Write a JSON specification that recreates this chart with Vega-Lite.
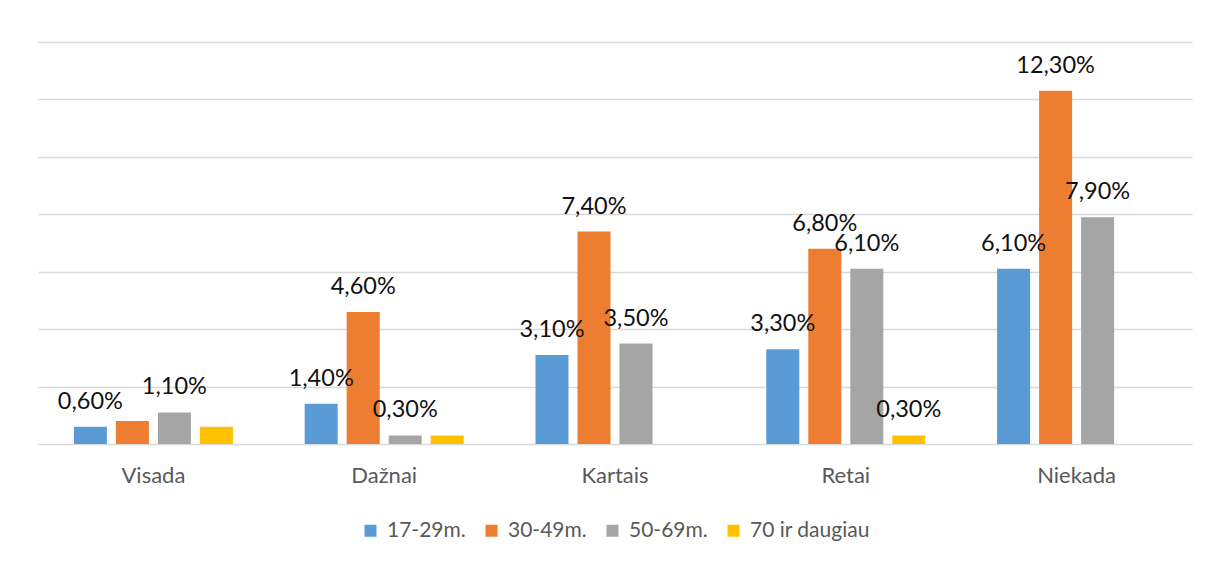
{
  "$schema": "https://vega.github.io/schema/vega-lite/v6.json",
  "width": 1154,
  "height": 402,
  "padding": {"left": 38, "top": 42, "right": 21, "bottom": 0},
  "background": "white",
  "data": {
    "values": [
      {"atsakymas": "Visada", "amzius": "17-29m.", "procentai": 0.6, "zyma": "0,60%"},
      {"atsakymas": "Visada", "amzius": "30-49m.", "procentai": 0.8, "zyma": ""},
      {"atsakymas": "Visada", "amzius": "50-69m.", "procentai": 1.1, "zyma": "1,10%"},
      {"atsakymas": "Visada", "amzius": "70 ir daugiau", "procentai": 0.6, "zyma": ""},
      {"atsakymas": "Dažnai", "amzius": "17-29m.", "procentai": 1.4, "zyma": "1,40%"},
      {"atsakymas": "Dažnai", "amzius": "30-49m.", "procentai": 4.6, "zyma": "4,60%"},
      {"atsakymas": "Dažnai", "amzius": "50-69m.", "procentai": 0.3, "zyma": "0,30%"},
      {"atsakymas": "Dažnai", "amzius": "70 ir daugiau", "procentai": 0.3, "zyma": ""},
      {"atsakymas": "Kartais", "amzius": "17-29m.", "procentai": 3.1, "zyma": "3,10%"},
      {"atsakymas": "Kartais", "amzius": "30-49m.", "procentai": 7.4, "zyma": "7,40%"},
      {"atsakymas": "Kartais", "amzius": "50-69m.", "procentai": 3.5, "zyma": "3,50%"},
      {"atsakymas": "Retai", "amzius": "17-29m.", "procentai": 3.3, "zyma": "3,30%"},
      {"atsakymas": "Retai", "amzius": "30-49m.", "procentai": 6.8, "zyma": "6,80%"},
      {"atsakymas": "Retai", "amzius": "50-69m.", "procentai": 6.1, "zyma": "6,10%"},
      {"atsakymas": "Retai", "amzius": "70 ir daugiau", "procentai": 0.3, "zyma": "0,30%"},
      {"atsakymas": "Niekada", "amzius": "17-29m.", "procentai": 6.1, "zyma": "6,10%"},
      {"atsakymas": "Niekada", "amzius": "30-49m.", "procentai": 12.3, "zyma": "12,30%"},
      {"atsakymas": "Niekada", "amzius": "50-69m.", "procentai": 7.9, "zyma": "7,90%"}
    ]
  },
  "encoding": {
    "x": {
      "field": "atsakymas",
      "type": "nominal",
      "sort": ["Visada", "Dažnai", "Kartais", "Retai", "Niekada"],
      "scale": {"paddingInner": 0.272, "paddingOuter": 0.136},
      "axis": {
        "title": null,
        "labelAngle": 0,
        "domain": false,
        "ticks": false,
        "labelPadding": 21,
        "labelFontSize": 22,
        "labelColor": "#595959",
        "labelFont": "Lato"
      }
    },
    "xOffset": {
      "field": "amzius",
      "type": "nominal",
      "sort": ["17-29m.", "30-49m.", "50-69m.", "70 ir daugiau"],
      "scale": {"paddingInner": 0.214, "paddingOuter": 0.107}
    },
    "y": {
      "field": "procentai",
      "type": "quantitative",
      "scale": {"domain": [0, 14], "nice": false},
      "axis": {
        "title": null,
        "labels": false,
        "ticks": false,
        "domain": false,
        "values": [0, 2, 4, 6, 8, 10, 12, 14],
        "gridColor": "#D9D9D9",
        "gridWidth": 1.3
      }
    }
  },
  "layer": [
    {
      "mark": {"type": "bar"},
      "encoding": {
        "color": {
          "field": "amzius",
          "type": "nominal",
          "sort": ["17-29m.", "30-49m.", "50-69m.", "70 ir daugiau"],
          "scale": {
            "domain": ["17-29m.", "30-49m.", "50-69m.", "70 ir daugiau"],
            "range": ["#5B9BD5", "#ED7D31", "#A5A5A5", "#FFC000"]
          },
          "legend": {
            "title": null,
            "orient": "bottom",
            "direction": "horizontal",
            "symbolType": "square",
            "symbolSize": 144,
            "symbolStrokeWidth": 0,
            "labelFontSize": 21,
            "labelFont": "Lato",
            "labelColor": "#595959",
            "columnPadding": 15,
            "labelOffset": 6,
            "offset": 34
          }
        }
      }
    },
    {
      "mark": {"type": "text", "baseline": "alphabetic", "dy": -18, "fontSize": 23.5, "font": "Lato", "color": "#111111"},
      "encoding": {"text": {"field": "zyma"}}
    }
  ],
  "config": {
    "view": {"stroke": null},
    "font": "Lato",
    "legend": {"layout": {"bottom": {"anchor": "middle"}}}
  }
}
